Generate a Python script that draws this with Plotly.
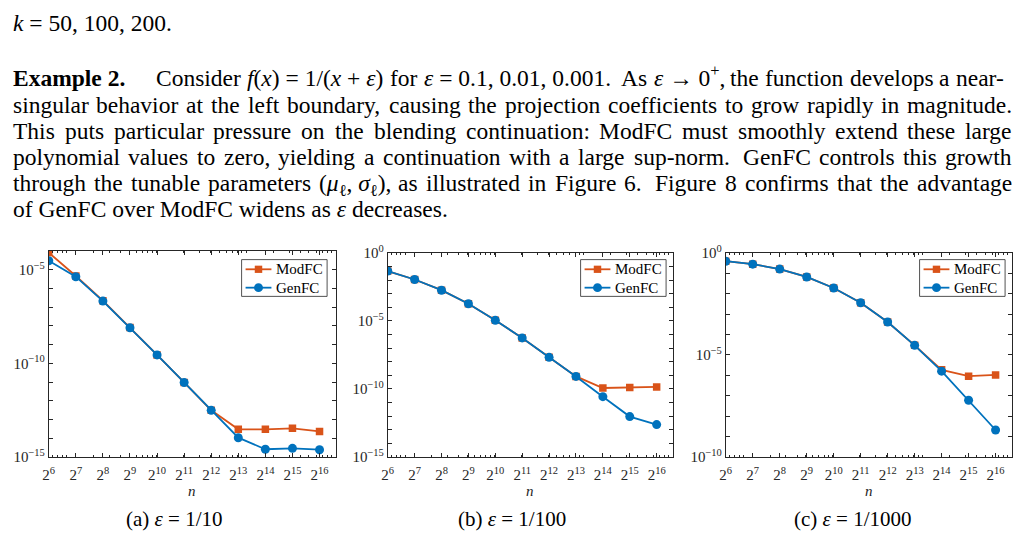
import math
import re
import plotly.graph_objects as go

# ---------------- data ----------------
n = [64, 128, 256, 512, 1024, 2048, 4096, 8192, 16384, 32768, 65536]
x_tick_labels = ["2<sup>%d</sup>" % k for k in range(6, 17)]

modfc_a = [8.1e-5, 4.6e-6, 2.2e-7, 8.1e-9, 2.8e-10, 9.5e-12, 3.1e-13, 3.0e-14, 3.0e-14, 3.4e-14, 2.3e-14]
genfc_a = [3.0e-5, 4.2e-6, 2.1e-7, 7.9e-9, 2.8e-10, 9.5e-12, 3.1e-13, 1.07e-14, 2.6e-15, 2.9e-15, 2.45e-15]

modfc_b = [4.6e-2, 1.1e-2, 1.8e-3, 1.8e-4, 1.1e-5, 5.6e-7, 2.1e-8, 8.3e-10, 1.17e-10, 1.3e-10, 1.4e-10]
genfc_b = [4.6e-2, 1.1e-2, 1.8e-3, 1.8e-4, 1.1e-5, 5.6e-7, 2.1e-8, 8.3e-10, 2.7e-11, 9.3e-13, 2.4e-13]

modfc_c = [0.39, 0.28, 0.16, 0.066, 0.019, 3.6e-3, 4.1e-4, 2.95e-5, 1.86e-6, 9.1e-7, 1.05e-6]
genfc_c = [0.39, 0.28, 0.16, 0.066, 0.019, 3.6e-3, 4.1e-4, 2.95e-5, 1.6e-6, 6.0e-8, 2.1e-9]

y_ticks_a = [1e-15, 1e-10, 1e-5]
y_labels_a = ["10<sup>−15</sup>", "10<sup>−10</sup>", "10<sup>−5</sup>"]
y_ticks_b = [1e-15, 1e-10, 1e-5, 1e0]
y_labels_b = ["10<sup>−15</sup>", "10<sup>−10</sup>", "10<sup>−5</sup>", "10<sup>0</sup>"]
y_ticks_c = [1e-10, 1e-5, 1e0]
y_labels_c = ["10<sup>−10</sup>", "10<sup>−5</sup>", "10<sup>0</sup>"]

captions = ["(a) <i>ε</i> = 1/10", "(b) <i>ε</i> = 1/100", "(c) <i>ε</i> = 1/1000"]
series_names = ["ModFC", "GenFC"]

# paragraph text (one entry per printed line)
top_line = "<i>k</i> = 50, 100, 200."
heading = "<b>Example 2.</b>"
para_lines = [
    ["Consider", "<i>f</i>(<i>x</i>) = 1/(<i>x</i> + <i>ε</i>)", "for",
     "<i>ε</i> = 0.1, 0.01, 0.001.", "As", "<i>ε</i> → 0<sup>+</sup>,", "the", "function",
     "develops", "a", "near-"],
    "singular behavior at the left boundary, causing the projection coefficients to grow rapidly in magnitude.".split(),
    "This puts particular pressure on the blending continuation: ModFC must smoothly extend these large".split(),
    "polynomial values to zero, yielding a continuation with a large sup-norm. GenFC controls this growth".split(),
    ["through", "the", "tunable", "parameters",
     "(<i>μ</i><sub>ℓ</sub>, <i>σ</i><sub>ℓ</sub>),", "as", "illustrated", "in", "Figure", "6.",
     "Figure", "8", "confirms", "that", "the", "advantage"],
]
last_line = "of GenFC over ModFC widens as <i>ε</i> decreases."

# ---------------- layout helpers ----------------
W, H = 1019, 554
FONT = "Liberation Serif"
AX = "#262626"
C_MOD = "#D95319"
C_GEN = "#0072BD"
TXT = 23.5


def fx(p):
    return p / W


def fy(p):
    return 1 - p / H


# approximate advance widths (em) of the Times-metric serif font
ROMAN = dict(zip("abcdefghijklmnopqrstuvwxyz",
                 [.444, .5, .444, .5, .444, .333, .5, .5, .278, .278, .5, .278, .778, .5, .5, .5, .5,
                  .333, .389, .278, .5, .5, .722, .5, .5, .444]))
ROMAN.update(dict(zip("ABCDEFGHIJKLMNOPQRSTUVWXYZ",
                      [.722, .667, .667, .722, .611, .556, .722, .722, .333, .389, .722, .611, .889,
                       .722, .722, .556, .722, .667, .556, .611, .722, .722, .944, .722, .722, .611])))
ROMAN.update({c: .5 for c in "0123456789"})
ROMAN.update({" ": .25, ",": .25, ".": .25, ":": .278, "-": .333, "(": .333, ")": .333,
              "/": .278, "=": .564, "+": .564, "→": .9, "ℓ": .42, "ε": .44, "μ": .5, "σ": .5})
ITALIC = dict(ROMAN)
ITALIC.update({"f": .278, "x": .444, "k": .444})
BOLD = dict(ROMAN)
BOLD.update({"E": .667, "a": .5, "m": .833, "p": .556})


def text_width(html, size):
    w = 0.0
    italic = bold = False
    scale = 1.0
    for tok in re.split(r"(<[^>]+>)", html):
        if tok.startswith("<"):
            closing = tok.startswith("</")
            tag = tok.strip("</>").lower()
            if tag == "i":
                italic = not closing
            elif tag == "b":
                bold = not closing
            elif tag in ("sup", "sub"):
                scale = 1.0 if closing else 0.7
            continue
        table = BOLD if bold else (ITALIC if italic else ROMAN)
        for ch in tok:
            w += table.get(ch, 0.5) * scale
    return w * size


minor_x = []
for e in range(1, 5):
    for d in range(1, 10):
        minor_x.append(d * 10 ** e)
minor_x.append(100000)
minor_y = [10.0 ** k for k in range(-16, 2)]

panels = [
    dict(x0=43, x1=332, y0=249, y1=462, yr=[-15, -4], mod=modfc_a, gen=genfc_a,
         yt=y_ticks_a, yl=y_labels_a, leg_r=323, cap_x=169),
    dict(x0=384, x1=671, y0=251, y1=462, yr=[-15, 0], mod=modfc_b, gen=genfc_b,
         yt=y_ticks_b, yl=y_labels_b, leg_r=664, cap_x=509),
    dict(x0=724, x1=1012, y0=251, y1=462, yr=[-10, 0], mod=modfc_c, gen=genfc_c,
         yt=y_ticks_c, yl=y_labels_c, leg_r=1005, cap_x=852),
]

fig = go.Figure()
layout = dict(
    width=W, height=H, margin=dict(l=0, r=0, t=0, b=0),
    paper_bgcolor="white", plot_bgcolor="white",
    font=dict(family=FONT, color=AX),
    showlegend=False,
    annotations=[], shapes=[],
)


def add_text(txt, xpx, ypx, anchor="left", size=TXT, yanchor="middle"):
    layout["annotations"].append(dict(
        text=txt, x=fx(xpx), y=fy(ypx), xref="paper", yref="paper",
        xanchor=anchor, yanchor=yanchor, showarrow=False, borderpad=0, borderwidth=0,
        font=dict(family=FONT, size=size, color="black")))


def justify(words, x_start, x_end, ypx):
    widths = [text_width(w, TXT) for w in words]
    weights = []
    for w in words[:-1]:
        plain = re.sub(r"<[^>]+>", "", w)
        weights.append(1.6 if plain.endswith(".") else 1.0)
    unit = (x_end - x_start - sum(widths)) / sum(weights)
    x = x_start
    for i, w in enumerate(words):
        dy = 0
        if "<sup>" in w:
            dy = -2
        elif "<sub>" in w:
            dy = 2
        if i == len(words) - 1:
            add_text(w, x_end, ypx + dy, "right")
        else:
            add_text(w, x, ypx + dy, "left")
            x += widths[i] + unit * weights[i]


def add_legend(right, top):
    """Compact MATLAB-style legend box (box, samples and labels)."""
    left = right - 86
    bottom = top + 38
    layout["shapes"].append(dict(
        type="rect", xref="paper", yref="paper",
        x0=fx(left), x1=fx(right), y0=fy(bottom), y1=fy(top),
        line=dict(color=AX, width=0.8), fillcolor="white", layer="above"))
    entries = [(series_names[0], C_MOD, "rect", 7.5, top + 10),
               (series_names[1], C_GEN, "circle", 9, top + 29)]
    for name, col, sym, sz, yc in entries:
        layout["shapes"].append(dict(
            type="line", xref="paper", yref="paper",
            x0=fx(left + 4), x1=fx(left + 30), y0=fy(yc), y1=fy(yc),
            line=dict(color=col, width=1.8), layer="above"))
        cx = left + 17
        layout["shapes"].append(dict(
            type=sym, xref="paper", yref="paper",
            x0=fx(cx - sz / 2), x1=fx(cx + sz / 2), y0=fy(yc + sz / 2), y1=fy(yc - sz / 2),
            line=dict(color=col, width=0), fillcolor=col, layer="above"))
        add_text(name, left + 35, yc, "left", size=15)


for i, p in enumerate(panels):
    sfx = "" if i == 0 else str(i + 1)
    xa, ya = "x" + sfx, "y" + sfx
    fig.add_trace(go.Scatter(
        x=n, y=p["mod"], name=series_names[0], mode="lines+markers",
        line=dict(color=C_MOD, width=1.8),
        marker=dict(symbol="square", size=7.5, color=C_MOD, line=dict(width=0)),
        xaxis=xa, yaxis=ya))
    fig.add_trace(go.Scatter(
        x=n, y=p["gen"], name=series_names[1], mode="lines+markers",
        line=dict(color=C_GEN, width=1.8),
        marker=dict(symbol="circle", size=9, color=C_GEN, line=dict(width=0)),
        xaxis=xa, yaxis=ya))

    layout["xaxis" + sfx] = dict(
        domain=[fx(p["x0"]), fx(p["x1"])], anchor=ya, type="log",
        range=[math.log10(64), 5], tickmode="array", tickvals=n, ticktext=x_tick_labels,
        ticks="inside", ticklen=4, tickwidth=0.8, tickcolor=AX,
        showline=True, linecolor=AX, linewidth=0.8, mirror="allticks",
        showgrid=False, zeroline=False, ticklabelstandoff=4,
        tickfont=dict(family=FONT, size=15, color=AX),
        minor=dict(ticks="inside", ticklen=2, tickwidth=0.8, tickcolor=AX,
                   tickvals=minor_x, showgrid=False),
    )
    layout["yaxis" + sfx] = dict(
        domain=[fy(p["y1"]), fy(p["y0"])], anchor=xa, type="log",
        range=p["yr"], tickmode="array", tickvals=p["yt"], ticktext=p["yl"],
        ticks="inside", ticklen=4, tickwidth=0.8, tickcolor=AX,
        showline=True, linecolor=AX, linewidth=0.8, mirror="allticks",
        showgrid=False, zeroline=False,
        tickfont=dict(family=FONT, size=15, color=AX),
        minor=dict(ticks="inside", ticklen=4, tickwidth=0.8, tickcolor=AX,
                   tickvals=minor_y, showgrid=False),
    )
    add_legend(p["leg_r"], 258)
    layout["annotations"].append(dict(
        text="<i>n</i>", x=fx((p["x0"] + p["x1"]) / 2), y=fy(497), xref="paper", yref="paper",
        xanchor="center", yanchor="middle", showarrow=False,
        font=dict(family=FONT, size=15, color=AX)))
    layout["annotations"].append(dict(
        text=captions[i], x=fx(p["cap_x"]), y=fy(526), xref="paper", yref="paper",
        xanchor="center", yanchor="middle", showarrow=False,
        font=dict(family=FONT, size=21, color="black")))

# ---------------- paragraph ----------------
add_text(top_line, 7, 0, "left", yanchor="top")
add_text(heading, 7, 70, "left")
justify(para_lines[0], 151, 1004, 70)
line_y = [98, 125, 152, 179]
for words, ypx in zip(para_lines[1:], line_y):
    justify(words, 7, 1012, ypx)
add_text(last_line, 7, 206, "left")

fig.update_layout(**layout)
fig.write_html("out.html")
